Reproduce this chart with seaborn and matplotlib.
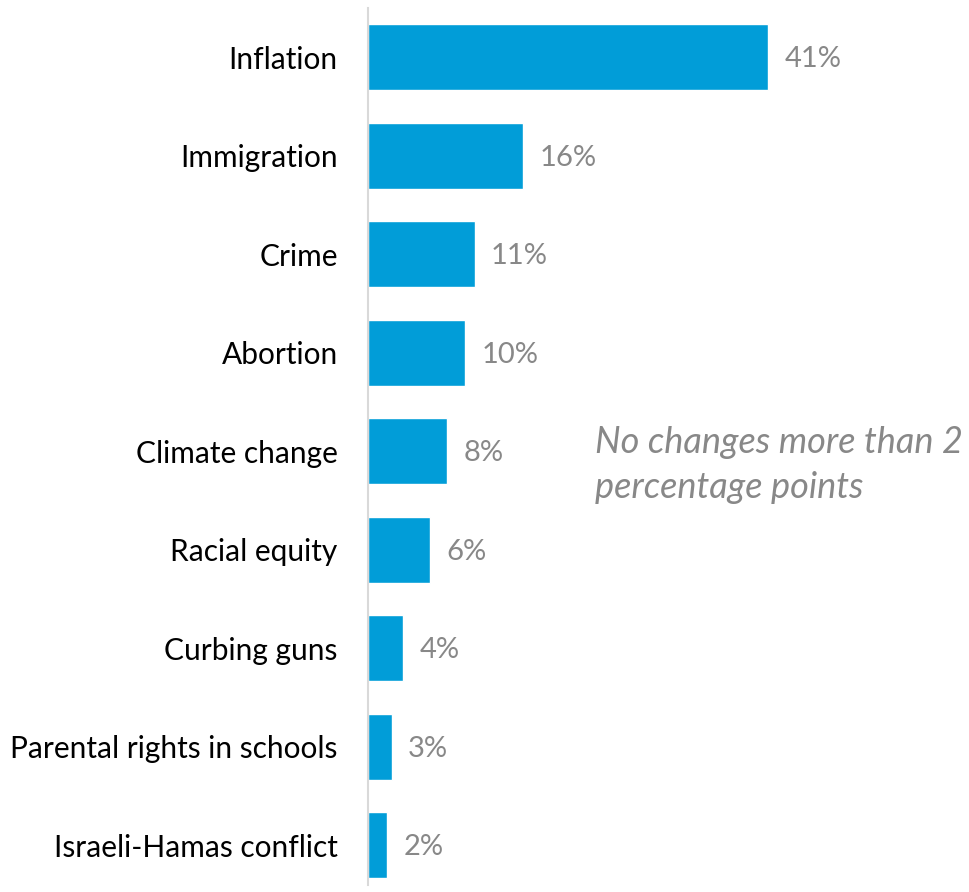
import matplotlib
matplotlib.use("Agg")
import matplotlib.pyplot as plt
import seaborn as sns
import pandas as pd

# Chart data (bar lengths, labels as printed)
issues = ["Inflation", "Immigration", "Crime", "Abortion", "Climate change",
          "Racial equity", "Curbing guns", "Parental rights in schools",
          "Israeli-Hamas conflict"]
shares = [41, 15.9, 10.9, 9.9, 8.1, 6.3, 3.6, 2.4, 1.9]
share_labels = ["41%", "16%", "11%", "10%", "8%", "6%", "4%", "3%", "2%"]
note = "No changes more than 2\npercentage points"

bar_color = "#019DD8"
label_gray = "#888888"

sns.set_theme(style="white")
plt.rcParams["font.family"] = ["Lato", "DejaVu Sans"]

df = pd.DataFrame({"issue": issues, "share": shares})

fig = plt.figure(figsize=(9.69, 8.92), dpi=100)
ax = fig.add_axes([0.380, 0.008, 0.620, 0.983])

sns.barplot(data=df, x="share", y="issue", orient="h", color=bar_color,
            saturation=1, width=0.67, ax=ax)

ax.set_xlim(0, 61.6)
ax.set_ylim(8.4, -0.5)

# value labels
for i, (v, lab) in enumerate(zip(shares, share_labels)):
    ax.text(v + 1.7, i + 0.02, lab, va="center", ha="left",
            fontsize=21, color=label_gray)

ax.text(23.3, 4.14, note, va="center", ha="left", fontsize=26,
        style="italic", color=label_gray, linespacing=1.42)

ax.set_xlabel("")
ax.set_ylabel("")
ax.set_xticks([])
ax.tick_params(axis="y", length=0, pad=22, labelsize=21.5, labelcolor="black")
for side in ["top", "right", "bottom"]:
    ax.spines[side].set_visible(False)
ax.spines["left"].set_color("#D9D9D9")
ax.spines["left"].set_linewidth(1.5)

fig.savefig("out.png", dpi=100)
